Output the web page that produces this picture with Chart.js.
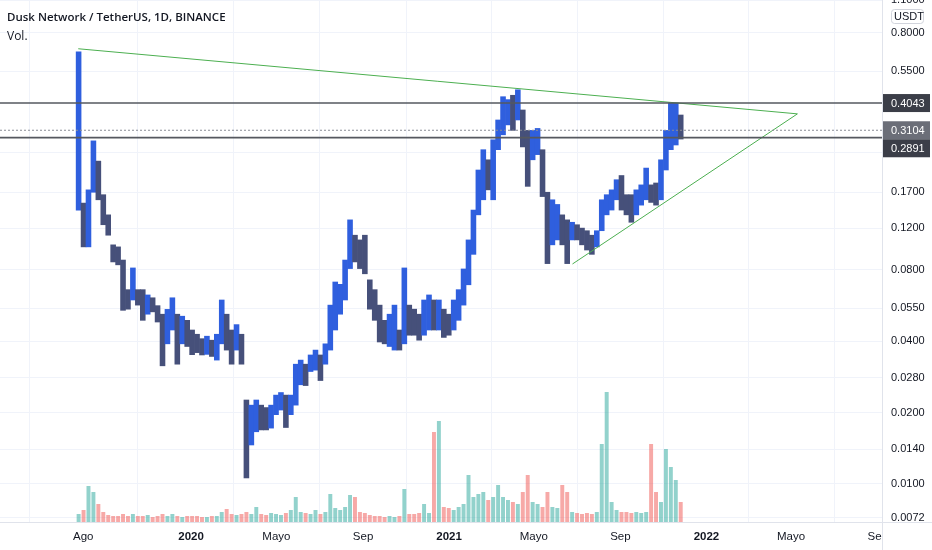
<!DOCTYPE html>
<html>
<head>
<meta charset="utf-8">
<script src="https://cdn.jsdelivr.net/npm/chart.js@4.4.0/dist/chart.umd.min.js"></script>
<style>
html, body { margin: 0; padding: 0; background: #fff; }
#wrap { position: relative; width: 932px; height: 550px; }
#title { position: absolute; left: 7px; top: 9px; font: 600 11.5px "Open Sans", sans-serif; color: #131722; }
#vol { position: absolute; left: 7px; top: 27px; font: 12px "Open Sans", sans-serif; color: #131722; }
</style>
</head>
<body>
<div id="wrap">
  <canvas id="c" width="932" height="550"></canvas>
  <div id="title">Dusk Network / TetherUS, 1D, BINANCE</div>
  <div id="vol">Vol.</div>
</div>
<script>
// weekly bins, first week starts on this date
var startDate = '2019-07-22';
var axisOrigin = '2019-08-01';

// weekly high / low (USDT)
var high = [0.665, 0.153, 0.174, 0.28, 0.23, 0.166, 0.1365, 0.102, 0.100, 0.088,
  0.066, 0.0815, 0.066, 0.066, 0.0627, 0.061, 0.0565, 0.052, 0.0545, 0.061,
  0.052, 0.051, 0.049, 0.0446, 0.0428, 0.041, 0.042, 0.0404, 0.0428, 0.0597,
  0.052, 0.0446, 0.047, 0.0428, 0.0226, 0.0215, 0.0226, 0.0215, 0.021, 0.0215,
  0.0237, 0.0243, 0.0237, 0.0237, 0.032, 0.0333, 0.032, 0.035, 0.0367, 0.035,
  0.039, 0.0568, 0.0711, 0.0695, 0.088, 0.130, 0.112, 0.107, 0.112, 0.0726,
  0.066, 0.0568, 0.049, 0.052, 0.0568, 0.0446, 0.0815, 0.0568, 0.0546, 0.052,
  0.0597, 0.0627, 0.0597, 0.0597, 0.0546, 0.052, 0.0597, 0.066, 0.0807, 0.107,
  0.143, 0.211, 0.257, 0.233, 0.283, 0.343, 0.430, 0.418, 0.436, 0.46,
  0.378, 0.31, 0.31, 0.316, 0.257, 0.17, 0.158, 0.151, 0.1365, 0.13,
  0.127, 0.124, 0.12, 0.117, 0.112, 0.117, 0.158, 0.166, 0.174, 0.192,
  0.20, 0.166, 0.166, 0.174, 0.1826, 0.215, 0.1826, 0.186, 0.233, 0.31,
  0.404, 0.404, 0.36];
var low = [0.143, 0.100, 0.100, 0.17, 0.158, 0.124, 0.112, 0.0864, 0.084, 0.054,
  0.0546, 0.0597, 0.0568, 0.049, 0.052, 0.0532, 0.0482, 0.0315, 0.039, 0.0446,
  0.032, 0.039, 0.038, 0.0351, 0.0358, 0.035, 0.0352, 0.0345, 0.0333, 0.039,
  0.0367, 0.032, 0.0367, 0.032, 0.0106, 0.0146, 0.0166, 0.0169, 0.0169, 0.0172,
  0.0196, 0.0205, 0.0173, 0.0196, 0.0215, 0.0262, 0.026, 0.0298, 0.0302, 0.0273,
  0.032, 0.0367, 0.0446, 0.052, 0.0597, 0.081, 0.0864, 0.081, 0.077, 0.0546,
  0.049, 0.0397, 0.039, 0.038, 0.0367, 0.0367, 0.039, 0.0424, 0.0424, 0.0404,
  0.0424, 0.0446, 0.0446, 0.0446, 0.0415, 0.0424, 0.0446, 0.049, 0.0568, 0.0692,
  0.093, 0.1365, 0.158, 0.174, 0.158, 0.257, 0.297, 0.327, 0.31, 0.343,
  0.264, 0.18, 0.233, 0.245, 0.163, 0.085, 0.102, 0.107, 0.102, 0.085,
  0.107, 0.107, 0.102, 0.097, 0.093, 0.100, 0.117, 0.1365, 0.143, 0.158,
  0.143, 0.1365, 0.127, 0.1365, 0.150, 0.158, 0.154, 0.150, 0.158, 0.211,
  0.257, 0.269, 0.285];
// relative volume per week (bar height units)
var volume = [8, 12, 36, 30, 18, 10, 7, 6, 6, 8,
  6, 8, 6, 6, 7, 5, 6, 8, 6, 8,
  6, 5, 6, 6, 6, 5, 5, 6, 6, 10,
  13, 8, 7, 8, 10, 8, 15, 8, 7, 9,
  8, 7, 9, 12, 25, 10, 9, 8, 12, 8,
  10, 28, 14, 12, 15, 27, 25, 10, 9, 7,
  6, 6, 5, 6, 5, 6, 33, 8, 8, 9,
  18, 9, 90, 101, 15, 14, 12, 15, 18, 47,
  25, 28, 30, 22, 25, 37, 25, 22, 20, 18,
  30, 47, 20, 18, 15, 30, 15, 14, 37, 30,
  10, 9, 8, 9, 8, 10, 78, 130, 20, 12,
  10, 10, 9, 10, 9, 10, 78, 30, 20, 73,
  55, 42, 20];

var tickDates = ['2019-08-01', '2020-01-01', '2020-05-01', '2020-09-01', '2021-01-01',
  '2021-05-01', '2021-09-01', '2022-01-01', '2022-05-01', '2022-09-01'];
var tickNames = ['Ago', '2020', 'Mayo', 'Sep', '2021', 'Mayo', 'Sep', '2022', 'Mayo', 'Sep'];
var priceTicks = [1.1, 0.8, 0.55, 0.25, 0.17, 0.12, 0.08, 0.055, 0.04, 0.028, 0.02, 0.014, 0.01, 0.0072];
var hiddenTicks = [0.25];

var levels = [0.4043, 0.3104, 0.2891];
var levelColors = ['#3b3e48', '#6b6e78', '#3b3e48'];
var trendTop = [['2019-07-25', 0.685], ['2022-05-10', 0.364]];
var trendBottom = [['2021-06-25', 0.0847], ['2022-05-10', 0.364]];

var xMin = -118, xMax = 1133;

function day(s) {
  return (Date.parse(s) - Date.parse(axisOrigin)) / 864e5;
}

var first = day(startDate);
var priceData = [], volData = [], priceColors = [], volColors = [];
for (var i = 0; i < high.length; i++) {
  var x = first + 7 * i + 3.5;
  priceData.push({x: x, y: [low[i], high[i]]});
  volData.push({x: x, y: volume[i]});
  var up = i == 0 || high[i] * low[i] >= high[i - 1] * low[i - 1];
  priceColors.push(up ? '#2f5fde' : '#46507a');
  volColors.push(up ? 'rgba(38,166,154,0.5)' : 'rgba(239,83,80,0.5)');
}

function pts(arr) {
  return arr.map(function (p) { return {x: day(p[0]), y: p[1]}; });
}
function flat(v) {
  return [{x: xMin, y: v}, {x: xMax, y: v}];
}

var overlay = {
  id: 'overlay',
  afterDraw: function (chart) {
    var ctx = chart.ctx, ca = chart.chartArea, ys = chart.scales.y;
    ctx.save();
    ctx.fillStyle = '#fff';
    ctx.fillRect(ca.right + 1, ca.bottom + 1, 60, 40);
    ctx.strokeStyle = '#e0e3eb';
    ctx.lineWidth = 1;
    ctx.beginPath();
    ctx.moveTo(ca.right + 0.5, 0); ctx.lineTo(ca.right + 0.5, 550);
    ctx.moveTo(0, ca.bottom + 0.5); ctx.lineTo(932, ca.bottom + 0.5);
    ctx.stroke();

    var prevBottom = -99;
    ctx.font = '11px "Liberation Sans", Arial, sans-serif';
    ctx.textBaseline = 'middle';
    levels.forEach(function (v, k) {
      var cy = ys.getPixelForValue(v);
      var top = Math.max(cy - 9, prevBottom);
      ctx.fillStyle = levelColors[k];
      ctx.fillRect(ca.right + 1, top, 47, 18);
      ctx.fillStyle = '#fff';
      ctx.fillText(v.toFixed(4), ca.right + 9, top + 9.5);
      prevBottom = top + 18;
    });

    // currency badge
    ctx.fillStyle = '#fff';
    ctx.strokeStyle = '#d1d4dc';
    ctx.beginPath();
    ctx.roundRect(ca.right + 9.5, 9.5, 32, 14, 3);
    ctx.fill(); ctx.stroke();
    ctx.fillStyle = '#131722';
    ctx.fillText('USDT', ca.right + 12, 17);
    ctx.restore();
  }
};

var tickFont = '"Liberation Sans", Arial, sans-serif';

new Chart(document.getElementById('c'), {
  type: 'bar',
  data: {
    datasets: [
      {type: 'line', data: flat(levels[0]), yAxisID: 'y', borderColor: '#55585f', borderWidth: 1.6, pointRadius: 0, order: 1},
      {type: 'line', data: flat(levels[1]), yAxisID: 'y', borderColor: '#8a8d97', borderWidth: 1, borderDash: [2, 2], pointRadius: 0, order: 1},
      {type: 'line', data: flat(levels[2]), yAxisID: 'y', borderColor: '#55585f', borderWidth: 1.6, pointRadius: 0, order: 1},
      {type: 'line', data: pts(trendTop), yAxisID: 'y', borderColor: '#4caf50', borderWidth: 1, pointRadius: 0, order: 1},
      {type: 'line', data: pts(trendBottom), yAxisID: 'y', borderColor: '#4caf50', borderWidth: 1, pointRadius: 0, order: 1},
      {data: priceData, yAxisID: 'y', backgroundColor: priceColors, borderWidth: 0,
        barPercentage: 1, categoryPercentage: 1, grouped: false, order: 2},
      {data: volData, yAxisID: 'v', backgroundColor: volColors, borderWidth: 0,
        barPercentage: 0.8, categoryPercentage: 1, grouped: false, order: 3}
    ]
  },
  options: {
    responsive: false,
    devicePixelRatio: 1,
    animation: false,
    layout: {padding: 0},
    plugins: {legend: {display: false}, tooltip: {enabled: false}},
    scales: {
      x: {
        type: 'linear',
        min: xMin,
        max: xMax,
        offset: false,
        grid: {color: '#f0f3fa', drawTicks: false},
        border: {display: false},
        afterBuildTicks: function (s) {
          s.ticks = tickDates.map(function (d) { return {value: day(d)}; });
        },
        afterFit: function (s) {
          s.height = 28;
          s.paddingLeft = 0;
          s.paddingRight = 0;
        },
        ticks: {
          autoSkip: false,
          maxRotation: 0,
          padding: 8,
          color: '#131722',
          font: function (c) {
            var n = tickNames[c.index] || '';
            return {size: 11.5, family: tickFont, weight: /^\d{4}$/.test(n) ? 'bold' : 'normal'};
          },
          callback: function (v, i) { return tickNames[i]; }
        }
      },
      y: {
        type: 'logarithmic',
        position: 'right',
        min: 0.00691,
        max: 1.1,
        grid: {color: '#f0f3fa', drawTicks: false},
        border: {display: false},
        afterBuildTicks: function (s) {
          s.ticks = priceTicks.map(function (v) { return {value: v}; });
        },
        afterFit: function (s) {
          s.width = 50;
          s.paddingTop = 0;
          s.paddingBottom = 0;
        },
        ticks: {
          autoSkip: false,
          padding: 9,
          color: '#131722',
          font: {size: 11, family: tickFont},
          callback: function (v) {
            return hiddenTicks.indexOf(v) >= 0 ? '' : Number(v).toFixed(4);
          }
        }
      },
      v: {
        type: 'linear',
        display: false,
        min: 0,
        max: 522
      }
    }
  },
  plugins: [overlay]
});
</script>
</body>
</html>
